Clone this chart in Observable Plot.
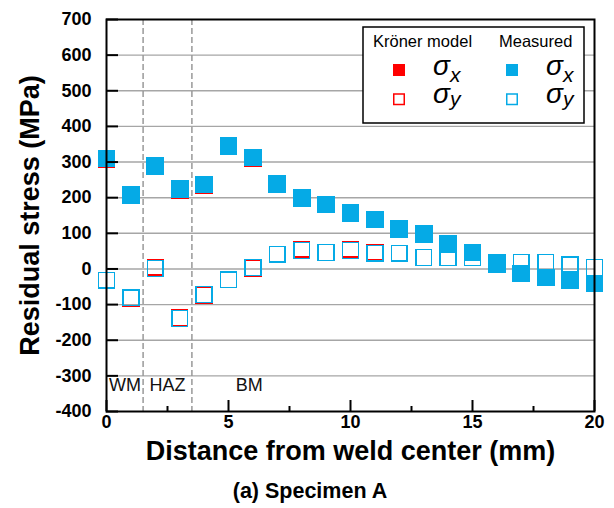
<!DOCTYPE html>
<html><head><meta charset="utf-8">
<script src="https://cdn.jsdelivr.net/npm/d3@7"></script>
<script src="https://cdn.jsdelivr.net/npm/@observablehq/plot@0.6"></script>
<style>
body{margin:0;background:#fff;font-family:"Liberation Sans",Arial,sans-serif;}
#wrap{position:relative;width:614px;height:508px;background:#fff;}
#legend{position:absolute;left:362px;top:26px;}
#caption{position:absolute;left:3px;top:479px;width:614px;text-align:center;font-weight:bold;font-size:21.5px;color:#000;}
</style></head>
<body>
<div id="wrap"><div id="chart"></div><div id="legend"></div><div id="caption">(a) Specimen A</div></div>
<script>
// ---- data ----
const distance   = [0,1,2,3,4,5,6,7,8,9,10,11,12,13,14,15,16,17,18,19,20];
const measuredSx = [310,208,290,225,237,345,313,239,198,181,156,139,111,97,69,46,13,-13,-24,-30,-41];
const measuredSy = [-32,-81,1,-139,-72,-30,4,41,52,46,52,44,44,32,32,32,18,18,18,12,4];
const kronerSx   = [307,208,290,222,234,345,310,239,198,181,156,139,111,97,69,46,13,-13,-24,-30,-41];
const kronerSy   = [-32,-83,5,-137,-74,-30,1,41,55,46,55,47,44,32,32,32,18,18,18,12,4];
const yTicks = [-400,-300,-200,-100,0,100,200,300,400,500,600,700];
const xTicks = [0,5,10,15,20];
const xMinorTicks = [2.5,7.5,12.5,17.5];
const zoneBounds = [1.5,3.5];
const zoneLabels = ["WM","HAZ","BM"];
const zoneCenters = [0.76,2.5,5.85];

const BLUE = "#05aae6", RED = "#ff0000";
const rows = distance.map((d,i)=>({d, msx:measuredSx[i], msy:measuredSy[i], ksx:kronerSx[i], ksy:kronerSy[i]}));
const zones = zoneLabels.map((l,i)=>({label:l, x:zoneCenters[i]}));
const H = 470;
const bold = {fontWeight:"bold", fill:"black"};
const blank = () => "";
const crisp = {shapeRendering:"crispEdges"};

const chart = Plot.plot({
  width:614, height:H,
  marginLeft:106, marginRight:20, marginTop:19, marginBottom:H-411,
  x:{domain:[0,20], axis:null},
  y:{domain:[-400,700], axis:null},
  style:{fontFamily:"'Liberation Sans', Arial, sans-serif", background:"white", color:"black"},
  marks:[
    Plot.gridY(yTicks.filter(v=>v>-400 && v<700), {stroke:"#a6a6a6", strokeOpacity:1, strokeWidth:1.4}),
    Plot.ruleX(zoneBounds, {stroke:"#999", strokeWidth:1.5, strokeDasharray:"6,3"}),
    Plot.text(zones, {x:"x", text:"label", frameAnchor:"bottom", dy:-21, fontSize:18, fill:"#111", fontWeight:"normal"}),
    Plot.dot(rows, {x:"d", y:"ksy", symbol:"square", r:8.9, stroke:RED, strokeWidth:1.5, fill:"none", ...crisp}),
    Plot.dot(rows, {x:"d", y:"msy", symbol:"square", r:8.9, stroke:BLUE, strokeWidth:1.5, fill:"none", ...crisp}),
    Plot.dot(rows, {x:"d", y:"ksx", symbol:"square", r:10.05, fill:RED, stroke:"none", ...crisp}),
    Plot.dot(rows, {x:"d", y:"msx", symbol:"square", r:10.05, fill:BLUE, stroke:"none", ...crisp}),
    Plot.frame({stroke:"black", strokeWidth:2}),
    Plot.axisY(yTicks, {anchor:"left", tickSize:12, dx:12, strokeWidth:2, tickFormat:blank, label:null}),
    Plot.axisX(xTicks, {anchor:"bottom", tickSize:11, dy:-11, strokeWidth:2, tickFormat:blank, label:null}),
    Plot.axisX(xMinorTicks, {anchor:"bottom", tickSize:5, dy:-5, strokeWidth:2, tickFormat:blank, label:null}),
    // tick labels as bold text marks placed by the scales
    Plot.text(yTicks, {y:d=>d, text:d=>String(d), frameAnchor:"left", dx:-15, textAnchor:"end", fontSize:18, ...bold}),
    Plot.text(xTicks, {x:d=>d, text:d=>String(d), frameAnchor:"bottom", dy:16, fontSize:18, ...bold}),
    Plot.text(["Distance from weld center (mm)"], {text:d=>d, frameAnchor:"bottom", dy:48, fontSize:27, ...bold, textAnchor:"middle"}),
    Plot.text(["Residual stress (MPa)"], {text:d=>d, frameAnchor:"left", dx:-76, rotate:-90, fontSize:27, ...bold, textAnchor:"middle"})
  ]
});
document.getElementById("chart").appendChild(chart);

// ---- legend ----
const lg = d3.select("#legend").append("svg").attr("width",224).attr("height",99);
lg.append("rect").attr("x",1).attr("y",1).attr("width",221).attr("height",96).attr("fill","white").attr("stroke","black").attr("stroke-width",1.5);
const ff = "'Liberation Sans', Arial, sans-serif";
const groups = [{title:"Kröner model", tx:11, sx:31, gx:71, color:RED},{title:"Measured", tx:137, sx:144, gx:184, color:BLUE}];
groups.forEach(g=>{
  lg.append("text").attr("x",g.tx).attr("y",21).attr("font-family",ff).attr("font-size",16.5).text(g.title);
  lg.append("rect").attr("x",g.sx).attr("y",38).attr("width",12).attr("height",12).attr("fill",g.color);
  lg.append("rect").attr("x",g.sx+0.75).attr("y",68).attr("width",10.5).attr("height",10.5).attr("fill","white").attr("stroke",g.color).attr("stroke-width",1.5);
  [["x",49,56],["y",77,80]].forEach(([sub,by,sy])=>{
    const t = lg.append("text").attr("x",g.gx).attr("y",by).attr("font-family",ff).attr("font-style","italic");
    t.append("tspan").attr("font-size",28).text("σ");
    t.append("tspan").attr("font-size",21).attr("dy",sy-by).text(sub);
  });
});
</script>
</body></html>
